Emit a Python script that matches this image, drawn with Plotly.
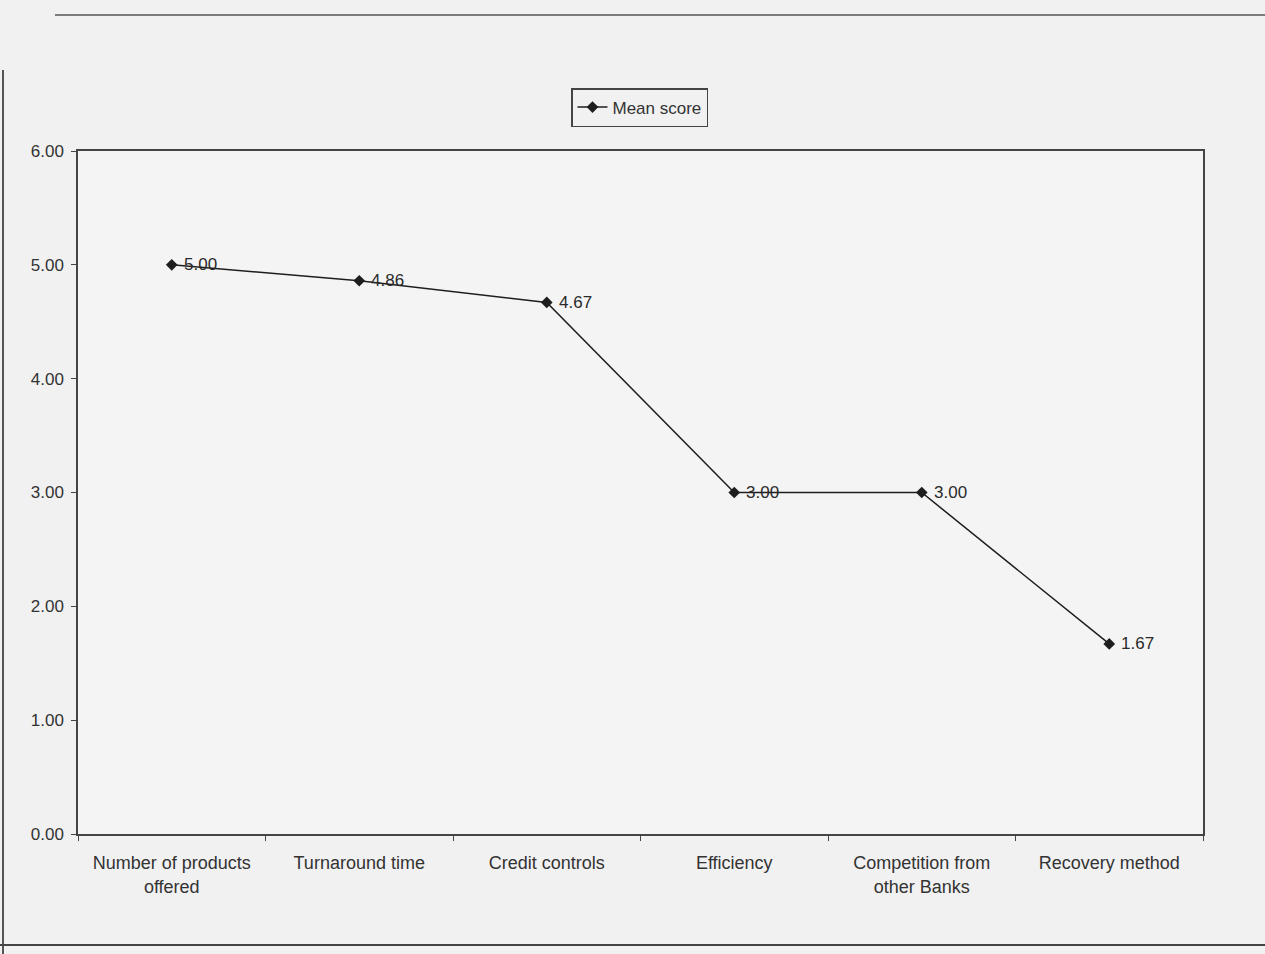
import plotly.graph_objects as go

categories = ["Number of products<br>offered", "Turnaround time", "Credit controls",
              "Efficiency", "Competition from<br>other Banks", "Recovery method"]
mean_score = [5.00, 4.86, 4.67, 3.00, 3.00, 1.67]
y_ticks = [0, 1, 2, 3, 4, 5, 6]
y_tick_labels = ["0.00", "1.00", "2.00", "3.00", "4.00", "5.00", "6.00"]

W, H = 1265, 954
L, R, T, B = 78, 62, 151, 120
pw, ph = W - L - R, H - T - B
FONT = "Liberation Sans, Arial, sans-serif"

def px_x(x):
    return (x - L) / pw

def px_y(y):
    return (H - B - y) / ph

fig = go.Figure()
fig.add_trace(go.Scatter(
    x=categories, y=mean_score, mode="lines+markers",
    name="Mean score",
    line=dict(color="#1e1e1e", width=1.5),
    marker=dict(symbol="diamond", size=9, color="#1e1e1e"),
    cliponaxis=False,
))

annotations = [
    dict(x=c, y=v, xref="x", yref="y", text=f"{v:.2f}", showarrow=False,
         xanchor="left", yanchor="middle", xshift=10,
         font=dict(family=FONT, size=17, color="#2a2a2a"))
    for c, v in zip(categories, mean_score)
]

frame_color = "#555555"
shapes = [
    dict(type="line", xref="paper", yref="paper", x0=px_x(55), x1=px_x(1265),
         y0=px_y(15), y1=px_y(15), line=dict(color=frame_color, width=1.5)),
    dict(type="line", xref="paper", yref="paper", x0=px_x(3), x1=px_x(3),
         y0=px_y(70), y1=px_y(954), line=dict(color=frame_color, width=2)),
    dict(type="line", xref="paper", yref="paper", x0=px_x(0), x1=px_x(1265),
         y0=px_y(945), y1=px_y(945), line=dict(color="#444444", width=2)),
]

fig.update_layout(
    width=W, height=H,
    margin=dict(l=L, r=R, t=T, b=B),
    paper_bgcolor="#f1f1f1",
    plot_bgcolor="#f4f4f4",
    font=dict(family=FONT, size=17, color="#333333"),
    showlegend=True,
    legend=dict(
        x=px_x(571), y=px_y(88), xanchor="left", yanchor="top",
        bgcolor="rgba(0,0,0,0)", bordercolor="#444444", borderwidth=1.5,
        font=dict(size=17, color="#333333"),
    ),
    shapes=shapes,
    annotations=annotations,
    xaxis=dict(
        range=[-0.5, 5.5],
        showline=True, linecolor="#444444", linewidth=1.5, mirror=True,
        ticks="outside", tickson="boundaries", ticklen=5, tickcolor="#444444",
        showgrid=False, tickfont=dict(size=18, color="#333333"),
        ticklabelstandoff=12,
    ),
    yaxis=dict(
        range=[0, 6], tickvals=y_ticks, ticktext=y_tick_labels,
        showline=True, linecolor="#444444", linewidth=1.5, mirror=True,
        ticks="outside", ticklen=5, tickcolor="#444444",
        showgrid=False, zeroline=False, tickfont=dict(size=17, color="#333333"),
        ticklabelstandoff=4,
    ),
)

fig.write_html("out.html", config={"displayModeBar": False},
               post_script="document.body.style.margin='0';")
